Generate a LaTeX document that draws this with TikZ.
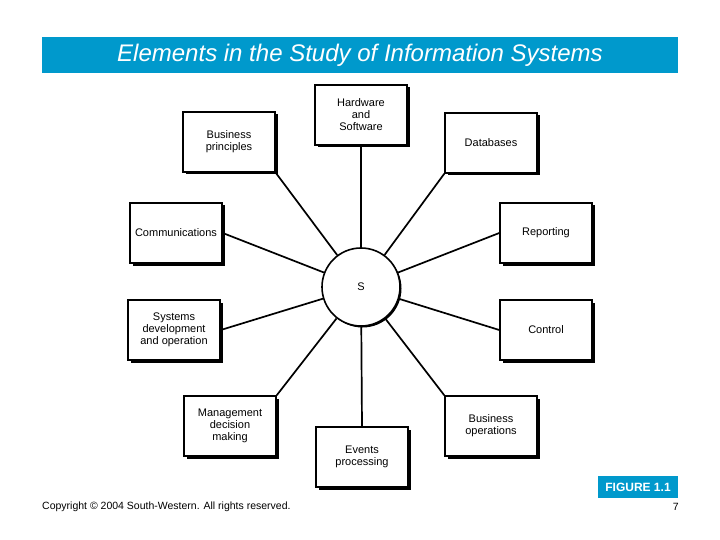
\documentclass[tikz,border=0pt]{standalone}
\usepackage{fontspec}
\setmainfont{Liberation Sans}
\usetikzlibrary{shadows}
\definecolor{titleblue}{RGB}{0,153,204}

\begin{document}
\begin{tikzpicture}[x=1pt, y=-1pt,
  element/.style={draw, line width=1.5pt, fill=white, minimum width=92pt, minimum height=60pt,
    align=center, inner sep=2pt, font=\fontsize{11}{12}\selectfont,
    drop shadow={shadow xshift=2.5pt, shadow yshift=-2.5pt, opacity=1, fill=black}},
  spoke/.style={line width=1.7pt}]
  \useasboundingbox (0,0) rectangle (720,540);
  \node (title) [fill=titleblue, text=white, minimum width=636pt, minimum height=36pt,
    font=\fontsize{24}{26}\selectfont\itshape] at (360,55) {Elements in the Study of Information Systems};
  \node (is) [circle, draw, line width=1.6pt, fill=white, minimum size=78pt, font=\fontsize{11}{12}\selectfont,
    drop shadow={shadow xshift=1.5pt, shadow yshift=-1.5pt, opacity=1, fill=black}] at (361,287) {S};
  \node (hw)     [element] at (361,115) {Hardware\\and\\Software};
  \node (bp)     [element] at (229,142) {Business\\principles};
  \node (db)     [element] at (491,143) {Databases};
  \node (comm)   [element] at (176,233) {Communications};
  \node (rep)    [element] at (546,233) {Reporting};
  \node (sysdev) [element] at (174,330) {Systems\\development\\and operation};
  \node (ctrl)   [element] at (546,330) {Control};
  \node (mgmt)   [element] at (230,426) {Management\\decision\\making};
  \node (bops)   [element] at (491,426) {Business\\operations};
  \node (events) [element] at (362,457) {Events\\processing};
  \draw[spoke] (hw.south) -- (is);
  \draw[spoke] (bp.south east) -- (is);
  \draw[spoke] (db.south west) -- (is);
  \draw[spoke] (comm.east) -- (is);
  \draw[spoke] (rep.west) -- (is);
  \draw[spoke] (sysdev.east) -- (is);
  \draw[spoke] (ctrl.west) -- (is);
  \draw[spoke] (mgmt.north east) -- (is);
  \draw[spoke] (bops.north west) -- (is);
  \draw[spoke] (events.north) -- (is);
  \node (fig) [fill=titleblue, text=white, minimum width=80pt, minimum height=22pt,
    font=\fontsize{12}{14}\selectfont\bfseries] at (638,487) {FIGURE 1.1};
  \node (copy) [anchor=west, inner sep=0pt, font=\fontsize{10.5}{12}\selectfont] at (42,507) {Copyright © 2004 South-Western. All rights reserved.};
  \node (page) [anchor=east, inner sep=0pt, font=\fontsize{10.5}{12}\selectfont] at (679,507) {7};
\end{tikzpicture}
\end{document}
